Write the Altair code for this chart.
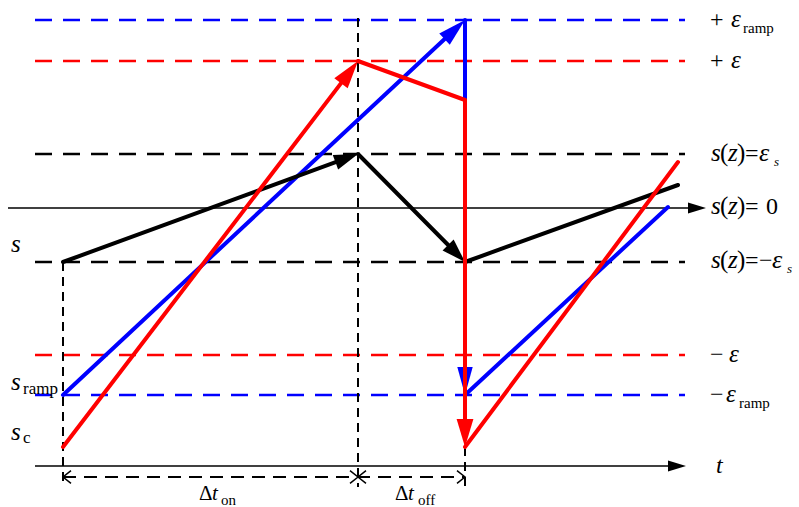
import math
import altair as alt
import pandas as pd

FONT = "Liberation Serif"
BLUE, RED, BLACK = "#0000ff", "#ff0000", "#000000"
W, H = 799, 507

# dashed reference levels: +eps_ramp, +eps, eps_s, -eps_s, -eps, -eps_ramp
level_y = [20, 61, 154, 262, 355, 395]
level_color = [BLUE, RED, BLACK, BLACK, RED, BLUE]
level_start, level_end = 35, 685

# sliding variable s (black), ramp signal s_ramp (blue), comparator signal s_c (red)
black_x = [63, 358, 465, 678]
black_y = [262, 154, 262, 185]
black_arrow = [True, True, False]
blue_x = [63, 465, 465, 668]
blue_y = [395, 20, 395, 207]
blue_arrow = [True, True, False]
red_x = [63, 358, 465, 465, 678]
red_y = [447, 61, 100, 447, 162]
red_arrow = [True, False, True, False]

# switching instants (dashed verticals) and the interval arrows below the t axis
vert_x = [63, 358, 465]
vert_top = [262, 18, 447]
vert_bottom = 487
interval_y = 477
interval_tips = [63, 358, 358, 465]
interval_dirs = [180, 0, 180, 0]

# solid axes: (x start, arrow tip, y)
s_axis = (8, 706, 208)
t_axis = (35, 686, 466)

# text pieces: (text, x, baseline y, font size)
italic_text = [
    ("ε", 731, 27, 25), ("ε", 731, 68, 25),
    ("s", 711, 161, 25), ("z", 728, 161, 25), ("ε", 759, 161, 26), ("s", 774, 166, 13),
    ("s", 711, 214, 25), ("z", 728, 214, 25),
    ("s", 711, 268, 25), ("z", 728, 268, 25), ("ε", 772, 268, 26), ("s", 787, 273, 13),
    ("ε", 729, 362, 25), ("ε", 726, 402, 25),
    ("t", 716, 473, 24),
    ("s", 11, 252, 25), ("s", 11, 390, 25), ("s", 11, 440, 25),
    ("t", 212, 500, 21), ("t", 408, 500, 21),
]
upright_text = [
    ("+", 710, 27, 24), ("ramp", 743, 33, 15),
    ("+", 710, 68, 24),
    ("(", 720, 161, 25), (")", 737, 161, 25), ("=", 745, 161, 24),
    ("(", 720, 214, 25), (")", 737, 214, 25), ("=", 745, 214, 24), ("0", 766, 214, 24),
    ("(", 720, 268, 25), (")", 737, 268, 25), ("=", 745, 268, 24), ("−", 759, 268, 24),
    ("−", 710, 362, 24),
    ("−", 710, 402, 24), ("ramp", 739, 408, 15),
    ("ramp", 23, 394, 17), ("c", 23, 443, 17),
    ("Δ", 199, 500, 21), ("on", 221, 505, 15),
    ("Δ", 395, 500, 21), ("off", 418, 505, 15),
]

xs = alt.Scale(domain=[0, W], nice=False, zero=False)
ys = alt.Scale(domain=[0, H], nice=False, zero=False, reverse=True)


def X(f):
    return alt.X(f, type="quantitative", scale=xs, axis=None)


def Y(f):
    return alt.Y(f, type="quantitative", scale=ys, axis=None)


def heading(dx, dy):
    return math.degrees(math.atan2(dx, -dy)) % 360


def path_layers(px, py, arrows, color, width, head_len, head_half):
    segs, heads = [], []
    for i, has_arrow in enumerate(arrows):
        x0, y0, x1, y1 = px[i], py[i], px[i + 1], py[i + 1]
        dx, dy = x1 - x0, y1 - y0
        L = math.hypot(dx, dy)
        ex, ey = x1, y1
        if has_arrow:
            cut = head_len * 0.6
            ex, ey = x1 - dx / L * cut, y1 - dy / L * cut
            heads.append({"x": x1, "y": y1, "angle": heading(dx, dy)})
        segs.append({"x": x0, "y": y0, "x2": ex, "y2": ey})
    rule = alt.Chart(pd.DataFrame(segs)).mark_rule(
        color=color, strokeWidth=width, strokeCap="round"
    ).encode(x=X("x"), y=Y("y"), x2="x2", y2="y2")
    shape = f"M0,0L{head_half},2L-{head_half},2Z"
    head = alt.Chart(pd.DataFrame(heads)).mark_point(
        shape=shape, filled=True, color=color, opacity=1, strokeWidth=0,
        size=head_len ** 2,
    ).encode(x=X("x"), y=Y("y"), angle=alt.Angle("angle:Q", scale=None))
    return [rule, head]


levels = alt.Chart(pd.DataFrame({
    "y": level_y, "color": level_color,
    "x": [level_start] * len(level_y), "x2": [level_end] * len(level_y),
})).mark_rule(strokeWidth=2.5, strokeDash=[17, 11]).encode(
    x=X("x"), x2="x2", y=Y("y"), color=alt.Color("color:N", scale=None)
)

verticals = alt.Chart(pd.DataFrame({
    "x": vert_x, "y": vert_top, "y2": [vert_bottom] * len(vert_x),
})).mark_rule(strokeWidth=2, strokeDash=[9, 6], color=BLACK).encode(
    x=X("x"), y=Y("y"), y2="y2"
)

interval = alt.Chart(pd.DataFrame({
    "x": [vert_x[0]], "x2": [vert_x[-1]], "y": [interval_y],
})).mark_rule(strokeWidth=2, strokeDash=[13, 8], color=BLACK).encode(
    x=X("x"), x2="x2", y=Y("y")
)

chevrons = alt.Chart(pd.DataFrame({
    "x": interval_tips, "y": [interval_y] * len(interval_tips), "angle": interval_dirs,
})).mark_point(
    shape="M-1,-0.8L0,0L-1,0.8", filled=False, color=BLACK, strokeWidth=1.5,
    size=256, opacity=1,
).encode(x=X("x"), y=Y("y"), angle=alt.Angle("angle:Q", scale=None))

axes_df = pd.DataFrame({
    "x": [s_axis[0], t_axis[0]], "x2": [s_axis[1] - 8, t_axis[1] - 8],
    "y": [s_axis[2], t_axis[2]],
})
axes = alt.Chart(axes_df).mark_rule(strokeWidth=1.4, color=BLACK).encode(
    x=X("x"), x2="x2", y=Y("y")
)
axis_heads = alt.Chart(pd.DataFrame({
    "x": [s_axis[1], t_axis[1]], "y": [s_axis[2], t_axis[2]], "angle": [90, 90],
})).mark_point(
    shape="M0,0L0.6,2L-0.6,2Z", filled=True, color=BLACK, opacity=1,
    strokeWidth=0, size=18 ** 2,
).encode(x=X("x"), y=Y("y"), angle=alt.Angle("angle:Q", scale=None))


def text_layer(rows, style):
    df = pd.DataFrame(rows, columns=["text", "x", "y", "size"])
    return alt.Chart(df).mark_text(
        font=FONT, fontStyle=style, align="left", baseline="alphabetic", color=BLACK
    ).encode(x=X("x"), y=Y("y"), text="text:N", size=alt.Size("size:Q", scale=None))


layers = [levels, verticals, interval, chevrons, axes, axis_heads]
layers += path_layers(blue_x, blue_y, blue_arrow, BLUE, 4, 28, 0.55)
layers += path_layers(black_x, black_y, black_arrow, BLACK, 4, 24, 0.65)
layers += path_layers(red_x, red_y, red_arrow, RED, 4, 28, 0.6)
layers += [text_layer(italic_text, "italic"), text_layer(upright_text, "normal")]

chart = alt.layer(*layers).properties(
    width=W, height=H, padding=0, autosize="none"
).configure_view(stroke=None)

chart.save("out.html", embed_options={"renderer": "svg", "actions": False})
